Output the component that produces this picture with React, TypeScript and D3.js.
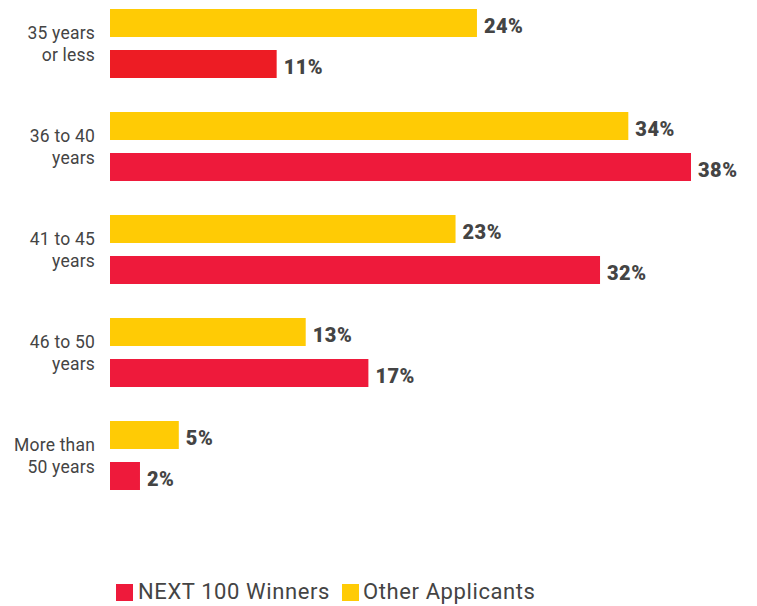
import React from "react";
import * as d3 from "d3";

const categories: string[][] = [
  ["35 years", "or less"],
  ["36 to 40", "years"],
  ["41 to 45", "years"],
  ["46 to 50", "years"],
  ["More than", "50 years"],
];
// bar lengths (estimated, unrounded) and their printed labels
const otherApplicants = [24.0, 33.9, 22.6, 12.8, 4.5];
const otherApplicantsLabels = ["24%", "34%", "23%", "13%", "5%"];
const next100Winners = [10.9, 38.0, 32.05, 16.9, 1.96];
const next100WinnersLabels = ["11%", "38%", "32%", "17%", "2%"];
const seriesNames = ["NEXT 100 Winners", "Other Applicants"];

const W = 757;
const H = 606;
const RED = "#EE1A3B";
const RED_FIRST = "#ED1C24";
const YELLOW = "#FFCB05";
const TEXT = "#444444";

export default function App() {
  const x = d3.scaleLinear().domain([0, 38]).range([110, 691]);
  const y = d3
    .scaleBand<number>()
    .domain(d3.range(categories.length))
    .range([0, 515])
    .paddingInner(0)
    .paddingOuter(0);
  const barH = 28;
  const top = 9;
  const gap = 13;

  return (
    <div style={{ position: "absolute", left: 0, top: 0 }}>
      <svg width={W} height={H} style={{ display: "block" }}>
        <rect width={W} height={H} fill="#fff" />
        {categories.map((cat, i) => {
          const gy = (y(i) as number) + top;
          const yY = gy;
          const rY = gy + barH + gap;
          const cy = (yY + rY + barH) / 2;
          return (
            <g key={i}>
              <rect x={x(0)} y={yY} width={x(otherApplicants[i]) - x(0)} height={barH} fill={YELLOW} />
              <rect
                x={x(0)}
                y={rY}
                width={x(next100Winners[i]) - x(0)}
                height={barH}
                fill={i === 0 ? RED_FIRST : RED}
              />
              <text
                x={x(otherApplicants[i]) + 7}
                y={yY + barH / 2 + 10}
                fontFamily="Roboto, sans-serif"
                fontWeight={900}
                fontSize={20}
                letterSpacing={0.5}
                fill={TEXT}
              >
                {otherApplicantsLabels[i]}
              </text>
              <text
                x={x(next100Winners[i]) + 7}
                y={rY + barH / 2 + 10}
                fontFamily="Roboto, sans-serif"
                fontWeight={900}
                fontSize={20}
                letterSpacing={0.5}
                fill={TEXT}
              >
                {next100WinnersLabels[i]}
              </text>
              {cat.map((line, j) => (
                <text
                  key={j}
                  x={95}
                  y={cy - 4.5 + j * 22}
                  textAnchor="end"
                  fontFamily="Roboto, sans-serif"
                  fontSize={17.5}
                  letterSpacing={0.2}
                  fill={TEXT}
                >
                  {line}
                </text>
              ))}
            </g>
          );
        })}
        <g>
          <rect x={116} y={584} width={17} height={17} fill={RED} />
          <text x={138} y={599} fontFamily="Roboto, sans-serif" fontSize={22} letterSpacing={0.6} fill={TEXT}>
            {seriesNames[0]}
          </text>
          <rect x={342} y={584} width={17} height={17} fill={YELLOW} />
          <text x={363} y={599} fontFamily="Roboto, sans-serif" fontSize={22} letterSpacing={0.6} fill={TEXT}>
            {seriesNames[1]}
          </text>
        </g>
      </svg>
    </div>
  );
}
